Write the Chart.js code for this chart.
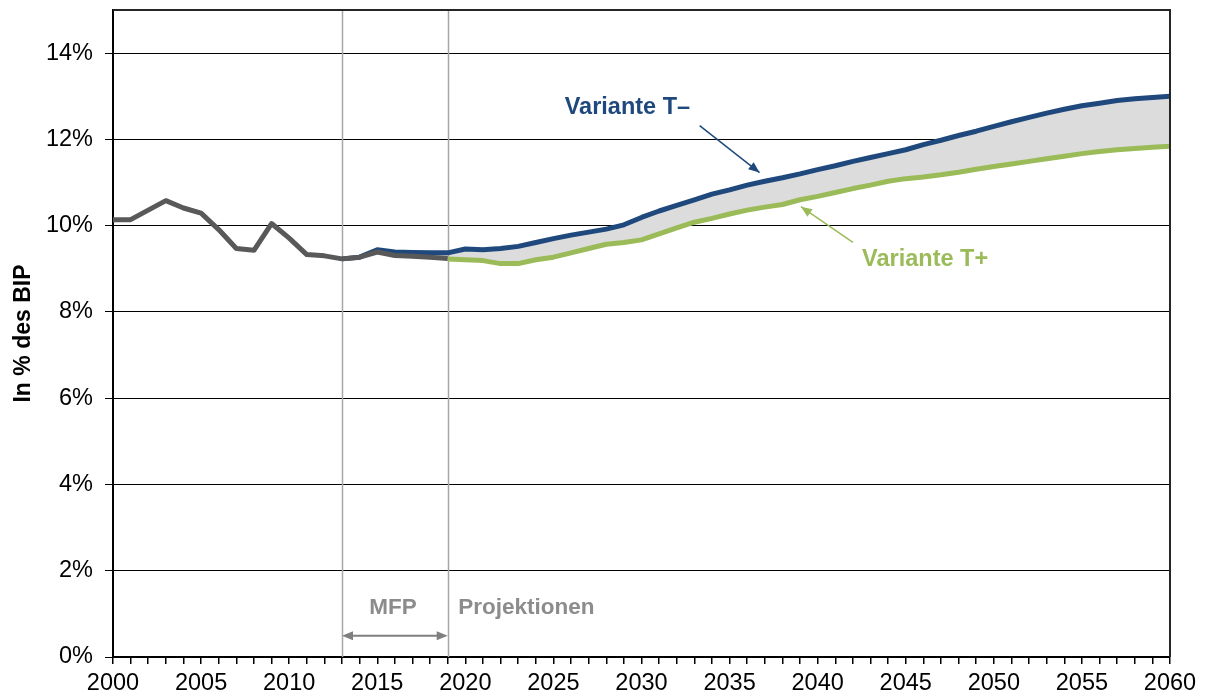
<!DOCTYPE html>
<html><head><meta charset="utf-8">
<script src="https://cdn.jsdelivr.net/npm/chart.js@4/dist/chart.umd.min.js"></script>
<style>html,body{margin:0;padding:0;background:#fff}canvas{display:block}</style>
</head><body>
<canvas id="c" width="1205" height="696"></canvas>
<script>
// ---- data ----
const histYears = [2000,2001,2002,2003,2004,2005,2006,2007,2008,2009,2010,2011,2012,2013,2014,2015,2016,2017,2018,2019];
const histValues = [10.14,10.14,10.36,10.58,10.41,10.29,9.91,9.47,9.43,10.05,9.71,9.33,9.30,9.23,9.27,9.39,9.31,9.29,9.27,9.24];
const tMinusStart = 2013;
const tMinusValues = [9.23,9.27,9.44,9.39,9.38,9.37,9.37,9.46,9.44,9.47,9.52,9.61,9.70,9.78,9.85,9.92,10.02,10.19,10.34,10.47,10.60,10.73,10.83,10.94,11.03,11.11,11.20,11.30,11.39,11.49,11.58,11.67,11.76,11.88,11.98,12.09,12.19,12.30,12.41,12.51,12.61,12.70,12.78,12.84,12.90,12.94,12.97,13.00];
const tPlusStart = 2019;
const tPlusValues = [9.23,9.21,9.19,9.12,9.12,9.21,9.27,9.37,9.47,9.57,9.61,9.67,9.81,9.95,10.08,10.17,10.27,10.36,10.43,10.49,10.60,10.68,10.77,10.86,10.94,11.03,11.09,11.13,11.18,11.24,11.31,11.37,11.43,11.49,11.55,11.61,11.67,11.72,11.76,11.79,11.82,11.84];
const yTickValues = [0,2,4,6,8,10,12,14];
const xLabelEvery = 5;
const mfpStart = 2013, projStart = 2019;
const labelTMinus = 'Variante T\u2013';
const labelTPlus = 'Variante T+';
const labelMFP = 'MFP';
const labelProj = 'Projektionen';
const yTitle = 'In % des BIP';

// ---- build points ----
const histPts = histYears.map((y,i)=>({x:y,y:histValues[i]}));
const tMinusPts = tMinusValues.map((v,i)=>({x:tMinusStart+i,y:v}));
const tPlusPts = tPlusValues.map((v,i)=>({x:tPlusStart+i,y:v}));
const lowerPts = histPts.filter(p=>p.x>=tMinusStart && p.x<tPlusStart).concat(tPlusPts);

const FONT = '"Liberation Sans", Arial, sans-serif';
const BLUE = '#1f497d', GREEN = '#9bbb59', GRAY = '#595959', NOTE = '#8c8c8c';

function arrowHead(ctx, x1,y1,x2,y2, len, w, color){
  const a = Math.atan2(y2-y1,x2-x1);
  ctx.save();
  ctx.fillStyle=color;
  ctx.beginPath();
  ctx.moveTo(x2,y2);
  ctx.lineTo(x2-len*Math.cos(a)+w*Math.sin(a), y2-len*Math.sin(a)-w*Math.cos(a));
  ctx.lineTo(x2-len*Math.cos(a)-w*Math.sin(a), y2-len*Math.sin(a)+w*Math.cos(a));
  ctx.closePath();
  ctx.fill();
  ctx.restore();
}

const decor = {
  id:'decor',
  beforeDatasetsDraw(chart){
    const {ctx, chartArea:a, scales:{x}} = chart;
    ctx.save();
    ctx.strokeStyle='#a6a6a6';
    ctx.lineWidth=1.5;
    [mfpStart, projStart].forEach(v=>{
      const px = Math.round(x.getPixelForValue(v))+0.5;
      ctx.beginPath(); ctx.moveTo(px,a.top); ctx.lineTo(px,a.bottom); ctx.stroke();
    });
    ctx.restore();
  },
  afterDraw(chart){
    const {ctx, chartArea:a, scales:{x,y}} = chart;
    ctx.save();
    // frame top/right
    ctx.strokeStyle='#262626'; ctx.lineWidth=2;
    ctx.beginPath(); ctx.moveTo(a.left,a.top); ctx.lineTo(a.right,a.top); ctx.lineTo(a.right,a.bottom); ctx.stroke();
    // texts
    ctx.font = 'bold 23.5px '+FONT;
    ctx.textBaseline='middle';
    ctx.textAlign='center';
    ctx.fillStyle=BLUE;
    ctx.fillText(labelTMinus, x.getPixelForValue(2029.2), y.getPixelForValue(12.74));
    ctx.fillStyle=GREEN;
    ctx.fillText(labelTPlus, x.getPixelForValue(2046.1), y.getPixelForValue(9.21));
    ctx.font = 'bold 22.5px '+FONT;
    ctx.fillStyle=NOTE;
    ctx.fillText(labelMFP, x.getPixelForValue(2015.9), y.getPixelForValue(1.14));
    ctx.textAlign='left';
    ctx.fillText(labelProj, x.getPixelForValue(2019.6), y.getPixelForValue(1.14));
    // arrow T-
    let x1=x.getPixelForValue(2033.3), y1=y.getPixelForValue(12.32), x2=x.getPixelForValue(2036.7), y2=y.getPixelForValue(11.23);
    ctx.strokeStyle=BLUE; ctx.lineWidth=1.5;
    ctx.beginPath(); ctx.moveTo(x1,y1); ctx.lineTo(x2,y2); ctx.stroke();
    arrowHead(ctx,x1,y1,x2,y2,11,4.5,BLUE);
    // arrow T+
    x1=x.getPixelForValue(2042.0); y1=y.getPixelForValue(9.61); x2=x.getPixelForValue(2039.05); y2=y.getPixelForValue(10.44);
    ctx.strokeStyle=GREEN;
    ctx.beginPath(); ctx.moveTo(x1,y1); ctx.lineTo(x2,y2); ctx.stroke();
    arrowHead(ctx,x1,y1,x2,y2,11,4.5,GREEN);
    // double arrow MFP
    const xa=x.getPixelForValue(mfpStart), xb=x.getPixelForValue(projStart), ya=y.getPixelForValue(0.49);
    ctx.strokeStyle='#7f7f7f'; ctx.lineWidth=2;
    ctx.beginPath(); ctx.moveTo(xa+6,ya); ctx.lineTo(xb-6,ya); ctx.stroke();
    arrowHead(ctx,xb,ya,xa,ya,11,4.5,'#7f7f7f');
    arrowHead(ctx,xa,ya,xb,ya,11,4.5,'#7f7f7f');
    ctx.restore();
  }
};

new Chart(document.getElementById('c'), {
  type:'line',
  data:{datasets:[
    {data:histPts, borderColor:GRAY, borderWidth:5, pointRadius:0, fill:false, order:0},
    {data:tMinusPts, borderColor:BLUE, borderWidth:5, pointRadius:0, fill:3, backgroundColor:'#dcdcdc', order:1},
    {data:tPlusPts, borderColor:GREEN, borderWidth:5, pointRadius:0, fill:false, order:2},
    {data:lowerPts, borderColor:'rgba(0,0,0,0)', borderWidth:0, pointRadius:0, fill:false, order:3}
  ]},
  options:{
    responsive:false, animation:false,
    layout:{padding:{left:0,right:35,top:10,bottom:0}},
    plugins:{legend:{display:false}, tooltip:{enabled:false}, filler:{drawTime:'beforeDatasetsDraw'}},
    elements:{line:{tension:0, borderJoinStyle:'round', borderCapStyle:'butt'}},
    scales:{
      x:{type:'linear', min:2000, max:2060,
        afterFit(s){s.height=39;},
        afterBuildTicks(s){const t=[];for(let v=2000;v<=2060;v++)t.push({value:v});s.ticks=t;},
        ticks:{autoSkip:false, maxRotation:0, padding:5, color:'#000', font:{family:FONT,size:23.5},
          callback:(v)=> (v%xLabelEvery===0? String(v):'')},
        grid:{drawOnChartArea:false, drawTicks:true, tickLength:7, color:'#000', lineWidth:1.5},
        border:{color:'#000', width:2}
      },
      y:{min:0, max:15,
        afterFit(s){s.width=113; s.paddingTop=0; s.paddingBottom=0;},
        afterBuildTicks(s){s.ticks=yTickValues.map(v=>({value:v}));},
        ticks:{padding:12, color:'#000', font:{family:FONT,size:23.5}, callback:(v)=>v+'%'},
        grid:{color:'#000', lineWidth:1, tickLength:8},
        border:{color:'#000', width:2},
        title:{display:true, text:yTitle, color:'#000', font:{family:FONT,size:23,weight:'bold'}, padding:{top:10,bottom:0}}
      }
    }
  },
  plugins:[decor]
});
</script>
</body></html>
